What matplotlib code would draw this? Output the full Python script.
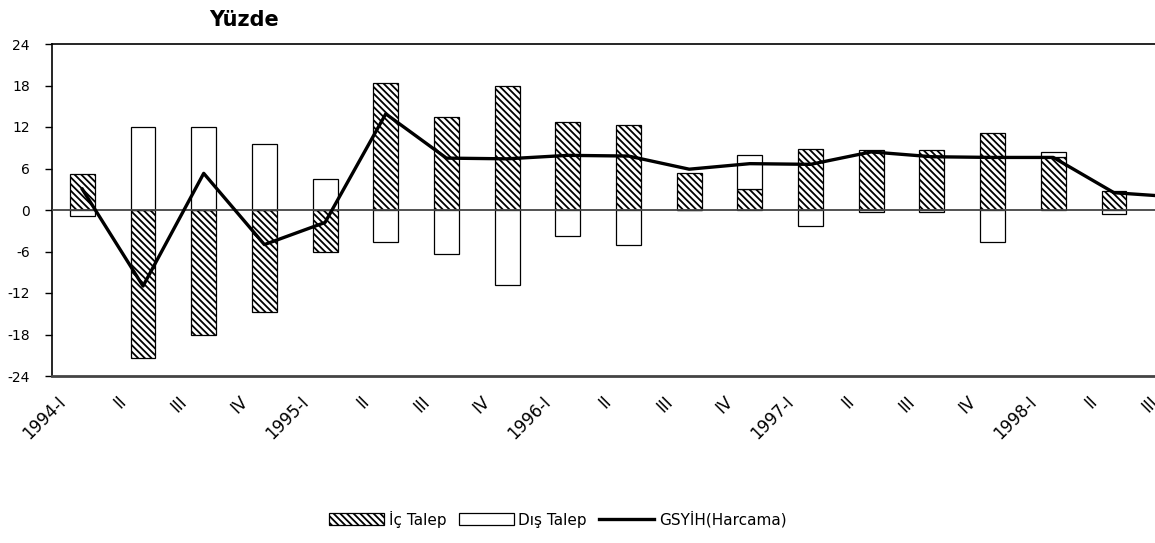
import numpy as np
import matplotlib
matplotlib.use('Agg')
import matplotlib.pyplot as plt
import matplotlib.transforms as mtransforms

# Dados
quarters = ['1994-I', 'II', 'III', 'IV',
            '1995-I', 'II', 'III', 'IV',
            '1996-I', 'II', 'III', 'IV',
            '1997-I', 'II', 'III', 'IV',
            '1998-I', 'II', 'III']
ic_talep = [5.2, -21.4, -18.0, -14.7, -6.1, 18.4, 13.5, 17.9, 12.7, 12.3,
            5.4, 3.0, 8.8, 8.7, 8.7, 11.2, 7.6, 2.8, 2.4]
dis_talep = [-0.9, 12.0, 12.0, 9.5, 4.5, -4.6, -6.4, -10.8, -3.8, -5.0,
             0.0, 5.0, -2.3, -0.3, -0.3, -4.6, 0.8, -0.6, -0.5]
gsyih = [3.0, -11.0, 5.3, -5.0, -1.8, 13.9, 7.5, 7.4, 7.9, 7.8,
         5.9, 6.7, 6.6, 8.4, 7.7, 7.6, 7.6, 2.5, 1.9]

plt.rcParams['font.family'] = ['DejaVu Sans']
plt.rcParams['hatch.linewidth'] = 1.3
plt.rcParams['axes.unicode_minus'] = False

fig = plt.figure(figsize=(11.55, 5.43), dpi=100)
# o eixo passa da borda direita, como no original
ax = fig.add_axes([52 / 1155, 1 - 376 / 543, (1205 - 52) / 1155, 332 / 543])

x = np.arange(len(quarters))
ic = np.array(ic_talep)
dis = np.array(dis_talep)
# empilhar: positivos sobre positivos, negativos sob negativos
bottom_dis = np.where(np.sign(dis) == np.sign(ic), ic, 0.0)

w = 0.41
b1 = ax.bar(x, ic, w, color='white', edgecolor='black', linewidth=0.9,
            hatch='\\\\\\\\\\', label='İç Talep', zorder=2)
b2 = ax.bar(x, dis, w, bottom=bottom_dis, color='white', edgecolor='black',
            linewidth=0.9, label='Dış Talep', zorder=2)
l1, = ax.plot(x, gsyih, color='black', linewidth=2.4, label='GSYİH(Harcama)', zorder=4)

ax.axhline(0, color='#444444', linewidth=1.3, zorder=3)

ax.set_xlim(-0.5, len(quarters) - 0.5)
ax.set_ylim(-24, 24)
ax.set_yticks(np.arange(-24, 25, 6))
ax.tick_params(axis='y', direction='out', length=5, width=1, labelsize=10, pad=11)
ax.tick_params(axis='x', length=0, pad=12)

ax.set_xticks(x)
ax.set_xticklabels(quarters, rotation=45, ha='right', va='top', fontsize=12)
offset = mtransforms.ScaledTranslation(-13 / 100, 0, fig.dpi_scale_trans)
for lbl in ax.get_xticklabels():
    lbl.set_transform(lbl.get_transform() + offset)

ax.spines['left'].set_linewidth(1.2)
ax.spines['top'].set_linewidth(1.2)
ax.spines['bottom'].set_color('#444444')
ax.spines['bottom'].set_linewidth(2)
ax.spines['right'].set_visible(False)

fig.text(244 / 1155, 1 - 20 / 543, 'Yüzde', ha='center', va='center',
         fontsize=15, fontweight='bold')

fig.legend(handles=[b1, b2, l1], loc='center',
           bbox_to_anchor=(558 / 1155, 1 - 519 / 543), ncol=3,
           frameon=False, fontsize=11, handlelength=3.6, handleheight=0.8,
           handletextpad=0.3, columnspacing=0.8)

plt.savefig('out.png', dpi=100)
